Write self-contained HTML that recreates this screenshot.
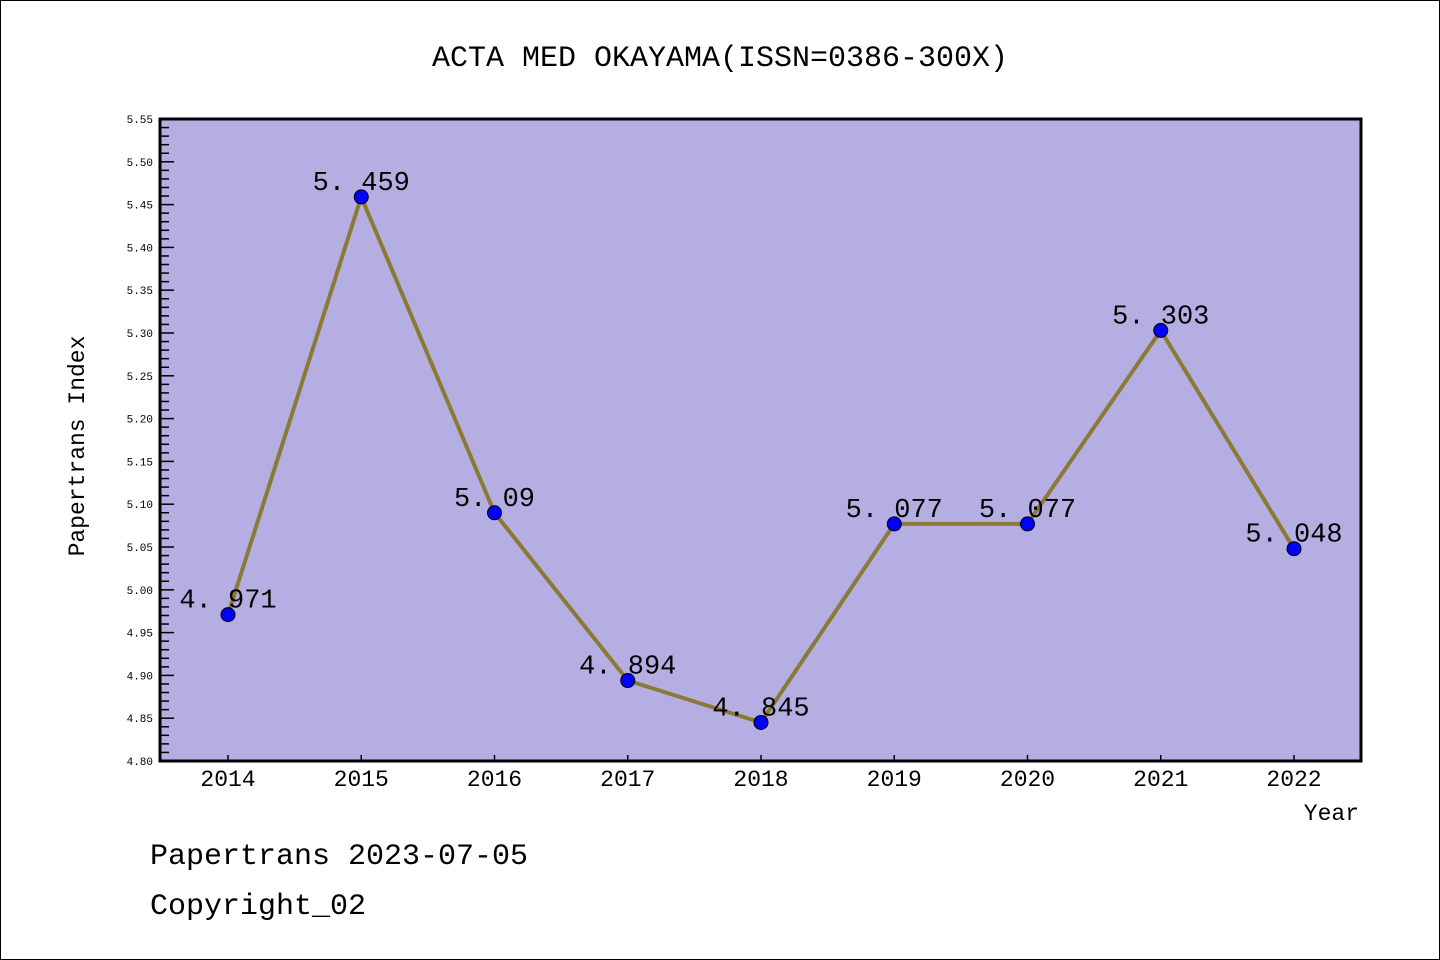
<!DOCTYPE html>
<html><head><meta charset="utf-8"><style>
html,body{margin:0;padding:0;background:#fff}
svg{display:block}
text{font-family:"Liberation Mono","DejaVu Sans Mono",monospace}
</style></head><body>
<svg id="chart" width="1440" height="960" xmlns="http://www.w3.org/2000/svg">
<rect x="0.5" y="0.5" width="1439" height="959" fill="#fff" stroke="#000" stroke-width="1"/>
<text x="720" y="66" font-size="30" text-anchor="middle">ACTA MED OKAYAMA(ISSN=0386-300X)</text>
<rect x="160" y="119" width="1201" height="642" fill="#b5aee2"/>
<g id="yticks"></g><g id="xticks"></g>
<g id="series"></g>
<rect x="160" y="119" width="1201" height="642" fill="none" stroke="#000" stroke-width="3"/>
<text transform="translate(84,446) rotate(-90)" font-size="23" text-anchor="middle">Papertrans Index</text>
<text x="1359" y="820" font-size="23" text-anchor="end">Year</text>
<text x="150" y="864" font-size="30">Papertrans 2023-07-05</text>
<text x="150" y="914" font-size="30">Copyright_02</text>
</svg>
<script>
const years = ["2014","2015","2016","2017","2018","2019","2020","2021","2022"];
const values = [4.971,5.459,5.09,4.894,4.845,5.077,5.077,5.303,5.048];
const yTickLabels = ["4.80","4.85","4.90","4.95","5.00","5.05","5.10","5.15","5.20","5.25","5.30","5.35","5.40","5.45","5.50","5.55"];
const NS="http://www.w3.org/2000/svg";
const yMin=4.80,yMax=5.55,plotTop=119,plotBot=761,plotLeft=160;
const yScale=v=>plotBot-(v-yMin)/(yMax-yMin)*(plotBot-plotTop);
const xScale=i=>228+i*(1294-228)/(years.length-1);
function mk(t,a,p){const e=document.createElementNS(NS,t);for(const k in a)e.setAttribute(k,a[k]);p.appendChild(e);return e;}
const yt=document.getElementById('yticks');
for(let k=0;k<=75;k++){const v=yMin+k*0.01;const major=k%5===0;
 const l=mk('line',{x1:plotLeft,x2:plotLeft+(major?14:9),y1:yScale(v),y2:yScale(v),stroke:'#000','stroke-width':1.5},yt);
 
 }
yTickLabels.forEach(s=>{const t=mk('text',{x:153,y:yScale(parseFloat(s))+4,'font-size':11,'text-anchor':'end','font-family':'Liberation Sans, sans-serif'},yt);t.textContent=s;
 
 });
const xt=document.getElementById('xticks');
years.forEach((yr,i)=>{const l=mk('line',{x1:xScale(i),x2:xScale(i),y1:plotBot,y2:plotBot-6,stroke:'#000','stroke-width':1.5},xt);
 
 
 const t=mk('text',{x:xScale(i),y:plotBot+25,'font-size':23,'text-anchor':'middle','font-family':'Liberation Sans, sans-serif'},xt);t.textContent=yr;
 
 });
const g=document.getElementById('series');
const pl=mk('polyline',{points:values.map((v,i)=>xScale(i)+','+yScale(v)).join(' '),fill:'none',stroke:'#8b7a35','stroke-width':4,'stroke-linejoin':'round'},g);


values.forEach((v,i)=>{const c=mk('circle',{cx:xScale(i),cy:yScale(v),r:7,fill:'#0000ff',stroke:'#000','stroke-width':1},g);
 
 
 const t=mk('text',{x:xScale(i),y:yScale(v)-7,'font-size':27,'text-anchor':'middle'},g);t.textContent=String(v).replace('.','. ');
 
 });
</script>
</body></html>
